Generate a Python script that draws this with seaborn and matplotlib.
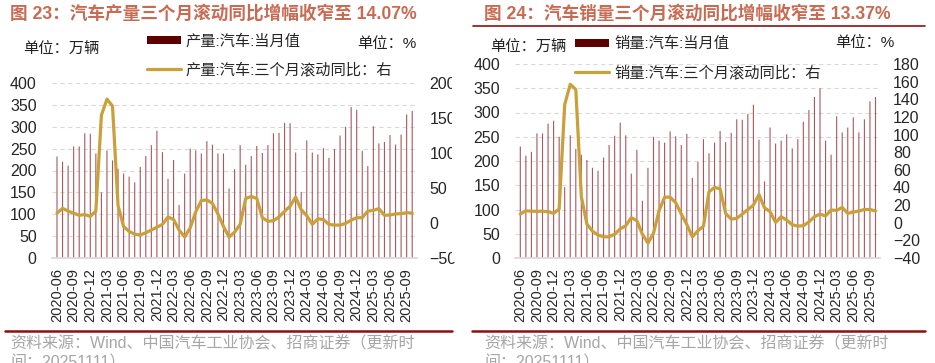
import numpy as np
import pandas as pd
import seaborn as sns
import matplotlib.pyplot as plt
from matplotlib.patches import Rectangle, Patch
from matplotlib.lines import Line2D

# monthly data, 2020-06 .. 2025-10
months = pd.period_range("2020-06", "2025-10", freq="M").strftime("%Y-%m").tolist()

prod_month = [232, 220, 211, 255, 255, 285, 284,
              239, 150, 246, 223, 204, 193, 186, 173, 208, 233, 258, 291,
              242, 181, 224, 121, 193, 250, 246, 239, 267, 259, 239, 239,
              159, 203, 258, 213, 233, 256, 240, 258, 285, 286, 309, 308,
              241, 151, 269, 241, 237, 251, 229, 249, 280, 300, 345, 339,
              245, 210, 301, 262, 265, 281, 259, 282, 328, 336]
prod_yoy3 = [14, 21, 17, 14, 11, 12, 9.5,
             17, 154, 177, 167, 25, -5, -12, -16, -17, -14, -10, -6,
             -2, 8.6, 5, -10, -20, -7, 16, 32, 33, 28, 13, -5,
             -20, -13, -2, 35, 38, 35, 7.6, 2.4, 3.3, 8.6, 16.7, 24,
             37, 19, 10.5, -2, 6, 5, -2, -3, -3, -0.5, 4, 7.6,
             7.6, 17, 18, 20.5, 11, 11.4, 13, 13.3, 14.8, 14.07]

sales_month = [230, 211, 219, 257, 257, 277, 283,
               250, 146, 253, 225, 213, 202, 186, 180, 207, 233, 252, 279,
               253, 174, 223, 118, 186, 250, 242, 238, 261, 251, 233, 256,
               165, 198, 245, 216, 238, 262, 239, 258, 286, 285, 297, 316,
               244, 158, 269, 236, 242, 255, 226, 245, 281, 305, 332, 350,
               242, 213, 292, 259, 269, 290, 259, 286, 323, 332]
sales_yoy3 = [9.8, 13.6, 13, 13, 13, 12.5, 10.6,
              15.5, 134, 157, 151, 29.5, -1.5, -9.5, -14, -16, -16, -13, -7,
              -3.4, 5.7, 2.3, -13, -23, -12, 13.6, 29, 29, 22.7, 10, -2,
              -16, -9, -4, 35, 40, 38.6, 10.6, 4, 5, 9.8, 15, 20,
              32, 17, 12.5, 0.4, 6.8, 3, -2.3, -3.8, -3.4, 1, 6.8, 9.8,
              7.6, 14.4, 14, 17.4, 10.6, 12, 13.3, 15, 15, 13.37]

W, H = 935, 363
BAR_C = "#a9585c"
LEG_BAR = "#5e0000"
LINE_C = "#c9a03a"
TITLE_C = "#c96a52"
RED = "#8b1010"

sns.set_theme(style="white")
plt.rcParams["font.family"] = ["Liberation Sans", "Noto Sans CJK SC"]

fig = plt.figure(figsize=(W / 100, H / 100), dpi=100)


def fx(x):
    return x / W


def fy(y):
    return 1 - y / H


def panel(x0, top_px, month_vals, yoy_vals, r_lim, r_ticks, name, title,
          title_x, leg_x, leg_y, unit_x, pct_x, unit_y, pct_y, line_x):
    df = pd.DataFrame({"month": months, "value": month_vals,
                       "yoy": yoy_vals, "pos": np.arange(len(months))})
    step = 5.55
    left = x0 - 0.9 * step
    width = 65.8 * step
    ax = fig.add_axes([fx(left), fy(258), width / W, (258 - top_px) / H])
    sns.barplot(data=df, x="month", y="value", color=BAR_C, width=0.2,
                saturation=1, linewidth=0, ax=ax, zorder=2)
    for p in ax.patches:
        p.set_snap(False)
    ax.set_ylim(0, 400)
    ax.set_yticks(range(0, 401, 50))
    ax.grid(axis="y", color="#d9d9d9", linestyle=(0, (4, 3)), linewidth=0.8)
    ax.set_axisbelow(True)
    ax2 = ax.twinx()
    sns.lineplot(data=df, x="pos", y="yoy", color=LINE_C, linewidth=2.3,
                 ax=ax2)
    ax2.set_ylim(*r_lim)
    ax2.set_yticks(r_ticks)
    ax.set_xlim(-0.9, 64.9)
    ticks = list(range(0, len(months), 3))
    ax.set_xticks(ticks)
    ax.set_xticklabels([months[i] for i in ticks], rotation=90, fontsize=10.5)
    for a in (ax, ax2):
        a.set_xlabel("")
        a.set_ylabel("")
        for s in a.spines.values():
            s.set_visible(False)
    ax.spines["bottom"].set_visible(True)
    ax.spines["bottom"].set_color("#d9d9d9")
    ax.tick_params(axis="x", length=3, color="#bfbfbf", pad=4)
    ax.tick_params(axis="y", length=0, pad=11, labelsize=11.5)
    ax2.tick_params(axis="y", length=0, pad=9, labelsize=11.5)

    handles = [Patch(facecolor=LEG_BAR, edgecolor="none"),
               Line2D([], [], color=LINE_C, linewidth=2.3)]
    labels = [f"{name}:汽车:当月值", f"{name}:汽车:三个月滚动同比：右"]
    leg = fig.legend(handles, labels, loc="upper left",
                     bbox_to_anchor=(fx(leg_x), fy(leg_y)), frameon=False,
                     fontsize=11, handlelength=2.2, handleheight=0.45,
                     handletextpad=0.35, labelspacing=0.9, borderpad=0,
                     borderaxespad=0)
    leg.set_zorder(5)

    fig.text(fx(unit_x), fy(unit_y), "单位：万辆", fontsize=11, va="center",
             color="#222222")
    fig.text(fx(pct_x), fy(pct_y), "单位：%", fontsize=11, va="center",
             color="#222222")
    fig.text(fx(title_x), fy(14), title, fontsize=12.7, fontweight="bold",
             color=TITLE_C, va="center")
    fig.add_artist(Line2D([fx(line_x[0]), fx(line_x[1])], [fy(331), fy(331)],
                          color=RED, linewidth=1.8))
    fig.text(fx(title_x), fy(344), "资料来源：Wind、中国汽车工业协会、招商证券（更新时",
             fontsize=11.5, color="#a6a6a6", va="center")
    fig.text(fx(title_x), fy(363), "间：20251111）",
             fontsize=11.5, color="#a6a6a6", va="center")
    return ax, ax2


panel(57, 83, prod_month, prod_yoy3, (-50, 200), range(-50, 201, 50), "产量",
      "图 23：汽车产量三个月滚动同比增幅收窄至 14.07%",
      10, 147, 34, 23, 357, 50, 44, (5, 452))
panel(520.3, 64, sales_month, sales_yoy3, (-40, 180), range(-40, 181, 20),
      "销量", "图 24：汽车销量三个月滚动同比增幅收窄至 13.37%",
      484, 575, 37, 490, 835, 48, 43, (472, 925))

# right panel title underline
fig.add_artist(Line2D([fx(473), fx(925)], [fy(26), fy(26)], color=RED,
                      linewidth=1.2))
# left panel is cropped at its right edge
fig.add_artist(Rectangle((fx(452), fy(262)), fx(466) - fx(452), fy(60) - fy(262),
                         facecolor="white", edgecolor="none", zorder=10))

fig.savefig("out.png", dpi=100)
